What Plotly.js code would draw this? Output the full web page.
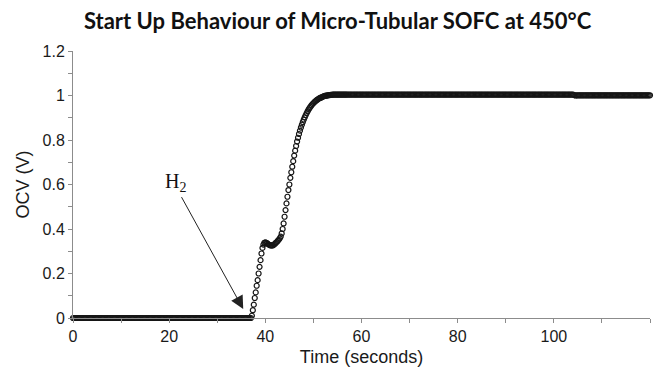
<!DOCTYPE html>
<html>
<head>
<meta charset="utf-8">
<script src="https://cdn.plot.ly/plotly-3.0.1.min.js"></script>
<style>
  html, body { margin: 0; padding: 0; background: #fff; }
  #chart { width: 662px; height: 380px; }
</style>
</head>
<body>
<div id="chart"></div>
<script>
// Before hydrogen is introduced (time in s, OCV in V)
const baseTime = [0,0.25,0.5,0.75,1,1.25,1.5,1.75,2,2.25,2.5,2.75,3,3.25,3.5,3.75,4,4.25,4.5,4.75,5,5.25,5.5,5.75,6,6.25,6.5,6.75,7,7.25,7.5,7.75,8,8.25,8.5,8.75,9,9.25,9.5,9.75,10,10.25,10.5,10.75,11,11.25,11.5,11.75,12,12.25,12.5,12.75,13,13.25,13.5,13.75,14,14.25,14.5,14.75,15,15.25,15.5,15.75,16,16.25,16.5,16.75,17,17.25,17.5,17.75,18,18.25,18.5,18.75,19,19.25,19.5,19.75,20,20.25,20.5,20.75,21,21.25,21.5,21.75,22,22.25,22.5,22.75,23,23.25,23.5,23.75,24,24.25,24.5,24.75,25,25.25,25.5,25.75,26,26.25,26.5,26.75,27,27.25,27.5,27.75,28,28.25,28.5,28.75,29,29.25,29.5,29.75,30,30.25,30.5,30.75,31,31.25,31.5,31.75,32,32.25,32.5,32.75,33,33.25,33.5,33.75,34,34.25,34.5,34.75,35,35.25,35.5,35.75,36,36.25,36.5,36.75,37];
const baseOcv = [
  0,0,0,0,0,0,0,0,0,0, 0,0,0,0,0,0,0,0,0,0, 0,0,0,0,0,0,0,0,0,0, 0,0,0,0,0,0,0,0,0,0,
  0,0,0,0,0,0,0,0,0,0, 0,0,0,0,0,0,0,0,0,0, 0,0,0,0,0,0,0,0,0,0, 0,0,0,0,0,0,0,0,0,0,
  0,0,0,0,0,0,0,0,0,0, 0,0,0,0,0,0,0,0,0,0, 0,0,0,0,0,0,0,0,0,0, 0,0,0,0,0,0,0,0,0,0,
  0,0,0,0,0,0,0,0,0,0, 0,0,0,0,0,0,0,0,0,0, 0,0,0,0,0,0,0,0,0];

// Start-up transient
const riseTime = [37.2,37.4,37.6,37.8,38,38.2,38.4,38.6,38.8,39,39.2,39.4,39.6,39.8,40,40.2,40.4,40.6,40.8,41,41.2,41.4,41.6,41.8,42,42.2,42.4,42.6,42.8,43,43.2,43.4,43.6,43.8,44,44.2,44.4,44.6,44.8,45,45.2,45.4,45.6,45.8,46,46.2,46.4,46.6,46.8,47,47.2,47.4,47.6,47.8,48,48.2,48.4,48.6,48.8,49,49.2,49.4,49.6,49.8,50,50.2,50.4,50.6,50.8,51,51.2,51.4,51.6,51.8,52,52.2,52.4,52.6,52.8,53,53.2,53.4,53.6,53.8,54,54.2,54.4,54.6,54.8,55,55.2,55.4,55.6,55.8,56,56.2,56.4,56.6,56.8,57];
const riseOcv = [0.010,0.035,0.060,0.090,0.115,0.145,0.170,0.200,0.230,0.260,0.290,0.315,0.330,0.338,0.340,0.338,0.335,0.332,0.329,0.327,0.326,0.326,0.327,0.330,0.334,0.338,0.342,0.347,0.352,0.358,0.366,0.380,0.400,0.425,0.455,0.485,0.515,0.545,0.575,0.600,0.630,0.655,0.680,0.705,0.730,0.752,0.773,0.793,0.810,0.827,0.842,0.856,0.869,0.881,0.892,0.902,0.912,0.921,0.929,0.937,0.944,0.950,0.956,0.961,0.966,0.970,0.974,0.978,0.981,0.984,0.987,0.989,0.991,0.993,0.995,0.997,0.998,0.999,1.000,1.001,1.002,1.002,1.003,1.003,1.004,1.004,1.004,1.004,1.004,1.004,1.004,1.004,1.004,1.004,1.004,1.004,1.004,1.004,1.004,1.004];

// Steady state
const plateauTime = [57.25,57.5,57.75,58,58.25,58.5,58.75,59,59.25,59.5,59.75,60,60.25,60.5,60.75,61,61.25,61.5,61.75,62,62.25,62.5,62.75,63,63.25,63.5,63.75,64,64.25,64.5,64.75,65,65.25,65.5,65.75,66,66.25,66.5,66.75,67,67.25,67.5,67.75,68,68.25,68.5,68.75,69,69.25,69.5,69.75,70,70.25,70.5,70.75,71,71.25,71.5,71.75,72,72.25,72.5,72.75,73,73.25,73.5,73.75,74,74.25,74.5,74.75,75,75.25,75.5,75.75,76,76.25,76.5,76.75,77,77.25,77.5,77.75,78,78.25,78.5,78.75,79,79.25,79.5,79.75,80,80.25,80.5,80.75,81,81.25,81.5,81.75,82,82.25,82.5,82.75,83,83.25,83.5,83.75,84,84.25,84.5,84.75,85,85.25,85.5,85.75,86,86.25,86.5,86.75,87,87.25,87.5,87.75,88,88.25,88.5,88.75,89,89.25,89.5,89.75,90,90.25,90.5,90.75,91,91.25,91.5,91.75,92,92.25,92.5,92.75,93,93.25,93.5,93.75,94,94.25,94.5,94.75,95,95.25,95.5,95.75,96,96.25,96.5,96.75,97,97.25,97.5,97.75,98,98.25,98.5,98.75,99,99.25,99.5,99.75,100,100.25,100.5,100.75,101,101.25,101.5,101.75,102,102.25,102.5,102.75,103,103.25,103.5,103.75,104,104.25,104.5,104.75,105,105.25,105.5,105.75,106,106.25,106.5,106.75,107,107.25,107.5,107.75,108,108.25,108.5,108.75,109,109.25,109.5,109.75,110,110.25,110.5,110.75,111,111.25,111.5,111.75,112,112.25,112.5,112.75,113,113.25,113.5,113.75,114,114.25,114.5,114.75,115,115.25,115.5,115.75,116,116.25,116.5,116.75,117,117.25,117.5,117.75,118,118.25,118.5,118.75,119,119.25,119.5,119.75,120];
const plateauOcv = [
  1.004,1.004,1.004,1.004,1.004,1.004,1.004,1.004,1.004,1.004, 1.004,1.004,1.004,1.004,1.004,1.004,1.004,1.004,1.004,1.004,
  1.004,1.004,1.004,1.004,1.004,1.004,1.004,1.004,1.004,1.004, 1.004,1.004,1.004,1.004,1.004,1.004,1.004,1.004,1.004,1.004,
  1.004,1.004,1.004,1.004,1.004,1.004,1.004,1.004,1.004,1.004, 1.004,1.004,1.004,1.004,1.004,1.004,1.004,1.004,1.004,1.004,
  1.004,1.004,1.004,1.004,1.004,1.004,1.004,1.004,1.004,1.004, 1.004,1.004,1.004,1.004,1.004,1.004,1.004,1.004,1.004,1.004,
  1.004,1.004,1.004,1.004,1.004,1.004,1.004,1.004,1.004,1.004, 1.004,1.004,1.004,1.004,1.004,1.004,1.004,1.004,1.004,1.004,
  1.004,1.004,1.004,1.004,1.004,1.004,1.004,1.004,1.004,1.004, 1.004,1.004,1.004,1.004,1.004,1.004,1.004,1.004,1.004,1.004,
  1.004,1.004,1.004,1.004,1.004,1.004,1.004,1.004,1.004,1.004, 1.004,1.004,1.004,1.004,1.004,1.004,1.004,1.004,1.004,1.004,
  1.004,1.004,1.004,1.004,1.004,1.004,1.004,1.004,1.004,1.004, 1.004,1.004,1.004,1.004,1.004,1.004,1.004,1.004,1.004,1.004,
  1.004,1.004,1.004,1.004,1.004,1.004,1.004,1.004,1.004,1.004, 1.004,1.004,1.004,1.004,1.004,1.004,1.004,1.004,1.004,1.004,
  1.004,1.004,1.004,1.004,1.004,1.004,1.004,1.004,
  1.002,1.000,
  1.001,1.001,1.001,1.001,1.001,1.001,1.001,1.001,1.001,1.001, 1.001,1.001,1.001,1.001,1.001,1.001,1.001,1.001,1.001,1.001,
  1.001,1.001,1.001,1.001,1.001,1.001,1.001,1.001,1.001,1.001, 1.001,1.001,1.001,1.001,1.001,1.001,1.001,1.001,1.001,1.001,
  1.001,1.001,1.001,1.001,1.001,1.001,1.001,1.001,1.001,1.001, 1.001,1.001,1.001,1.001,1.001,1.001,1.001,1.001,1.001,1.001,
  1.001,1.001];

// Annotation: H2 introduced
const h2Label = 'H<sub>2</sub>';
const h2Tip = [35.4, 0.04];
const h2Tail = [22.4, 0.55];
const h2Text = [21.4, 0.61];

const markerStyle = { symbol: 'circle-open', size: 5, color: '#161616', line: { width: 1.2, color: '#161616' } };
function seg(x, y) {
  return { x: x, y: y, type: 'scatter', mode: 'markers', cliponaxis: false, marker: markerStyle, hoverinfo: 'x+y' };
}

const axisFont = { family: 'Liberation Sans, Arial, sans-serif', size: 16, color: '#1a1a1a' };
const titleFont = { family: 'Liberation Sans, Arial, sans-serif', size: 18, color: '#1a1a1a' };

const layout = {
  width: 662, height: 380,
  margin: { l: 73, r: 12, t: 51, b: 62 },
  paper_bgcolor: '#fff', plot_bgcolor: '#fff',
  showlegend: false,
  title: {
    text: 'Start Up Behaviour of Micro-Tubular SOFC at 450°C',
    font: { family: 'Lato, Open Sans, sans-serif', size: 22, color: '#111', weight: 'bold' },
    x: 0.51, xanchor: 'center', y: 0.945, yanchor: 'middle'
  },
  xaxis: {
    range: [0, 120], dtick: 20, tick0: 0,
    showgrid: false, zeroline: false,
    showline: true, linecolor: '#8c8c8c', linewidth: 1,
    ticks: 'outside', ticklen: 4, tickcolor: '#8c8c8c',
    minor: { dtick: 10, ticks: 'outside', ticklen: 4, tickcolor: '#8c8c8c', showgrid: false },
    tickfont: axisFont,
    title: { text: 'Time (seconds)', font: titleFont, standoff: 6 }
  },
  yaxis: {
    range: [0, 1.2], dtick: 0.2, tick0: 0,
    showgrid: false, zeroline: false,
    showline: true, linecolor: '#8c8c8c', linewidth: 1,
    ticks: 'outside', ticklen: 4, tickcolor: '#8c8c8c',
    minor: { dtick: 0.1, ticks: 'outside', ticklen: 4, tickcolor: '#8c8c8c', showgrid: false },
    tickfont: axisFont,
    title: { text: 'OCV (V)', font: titleFont, standoff: 8 }
  },
  annotations: [
    {
      x: h2Tip[0], y: h2Tip[1], xref: 'x', yref: 'y',
      ax: h2Tail[0], ay: h2Tail[1], axref: 'x', ayref: 'y',
      text: '', showarrow: true,
      arrowhead: 2, arrowsize: 2.6, arrowwidth: 1, arrowcolor: '#222'
    },
    {
      x: h2Text[0], y: h2Text[1], xref: 'x', yref: 'y',
      text: h2Label, showarrow: false,
      font: { family: 'Liberation Serif, Times New Roman, serif', size: 20, color: '#111' }
    }
  ]
};

Plotly.newPlot('chart', [seg(baseTime, baseOcv), seg(riseTime, riseOcv), seg(plateauTime, plateauOcv)], layout, { displayModeBar: false, staticPlot: true });
</script>
</body>
</html>
